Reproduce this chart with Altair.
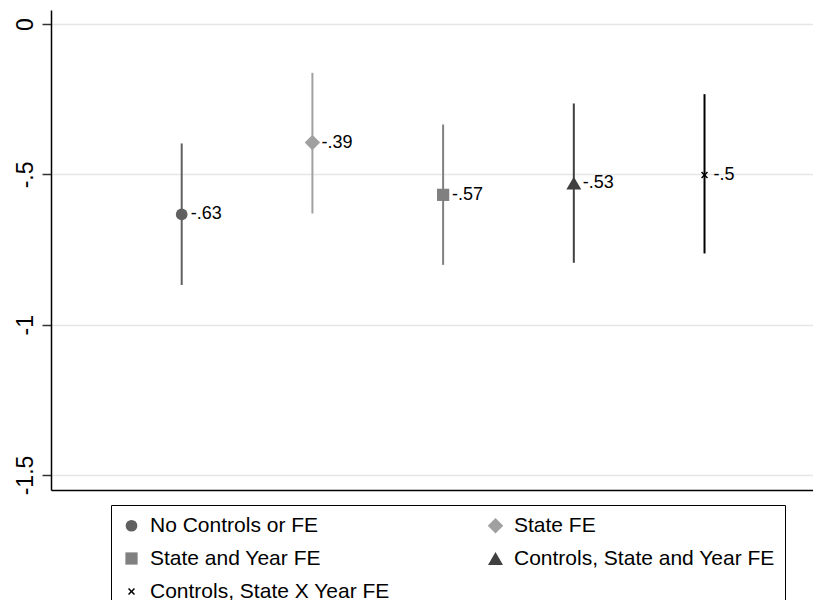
import altair as alt
import pandas as pd

# ---- data ----
series = ["No Controls or FE", "State FE", "State and Year FE",
          "Controls, State and Year FE", "Controls, State X Year FE"]
xpos = [1, 2, 3, 4, 5]
estimate = [-0.633, -0.394, -0.568, -0.529, -0.502]
ci_low = [-0.868, -0.630, -0.801, -0.794, -0.763]
ci_high = [-0.397, -0.162, -0.334, -0.264, -0.233]
value_labels = ["-.63", "-.39", "-.57", "-.53", "-.5"]

colors = ["#606060", "#a0a0a0", "#808080", "#404040", "#000000"]
xshape = "M-1,-0.7L-0.7,-1L0,-0.3L0.7,-1L1,-0.7L0.3,0L1,0.7L0.7,1L0,0.3L-0.7,1L-1,0.7L-0.3,0Z"
shapes = ["circle", "diamond", "square", "triangle-up", xshape]
sizes = [137, 240, 150, 225, 49]

ytick_values = [0, -0.5, -1, -1.5]
ytick_labels = ["0", "-.5", "-1", "-1.5"]

df = pd.DataFrame({
    "series": series, "x": xpos, "est": estimate,
    "lo": ci_low, "hi": ci_high, "lab": value_labels,
})

label_expr = " : ".join(
    [f"datum.value == {v} ? '{l}'" for v, l in zip(ytick_values, ytick_labels)]
) + " : datum.label"

FONT = "Liberation Sans"

xscale = alt.Scale(domain=[0, 5.83], nice=False, zero=False)
yscale = alt.Scale(domain=[-1.55, 0.047], nice=False, zero=False)
cscale = alt.Scale(domain=series, range=colors)

x_enc = alt.X("x:Q", scale=xscale,
              axis=alt.Axis(labels=False, ticks=False, title=None, grid=False,
                            domainColor="black", domainWidth=1.5))
y_axis = alt.Axis(values=ytick_values, labelExpr=label_expr, title=None,
                  labelAngle=270, labelAlign="center", labelBaseline="alphabetic",
                  labelFontSize=23, labelFont=FONT, labelColor="black",
                  labelPadding=10, tickSize=9, tickColor="#333333", tickWidth=1.5,
                  domainColor="black", domainWidth=1.5,
                  grid=True, gridColor="#e6e6e6", gridWidth=1.5)

base = alt.Chart(df)

rules = base.mark_rule(strokeWidth=2).encode(
    x=x_enc,
    y=alt.Y("lo:Q", scale=yscale, axis=y_axis),
    y2="hi:Q",
    color=alt.Color("series:N", scale=cscale, legend=None),
)

leg = alt.Legend(
    title=None, orient="none", legendX=60, legendY=495,
    columns=2, direction="horizontal",
    strokeColor="black", padding=10,
    labelFont=FONT, labelFontSize=21, labelColor="black",
    labelLimit=500, labelOffset=8,
    rowPadding=11, columnPadding=95,
    symbolStrokeWidth=0, symbolOpacity=1)

points = base.mark_point(filled=True, opacity=1).encode(
    x=alt.X("x:Q", scale=xscale),
    y=alt.Y("est:Q", scale=yscale),
    color=alt.Color("series:N", scale=cscale, sort=series, legend=leg),
    shape=alt.Shape("series:N", scale=alt.Scale(domain=series, range=shapes),
                    sort=series, legend=leg),
    size=alt.Size("series:N", scale=alt.Scale(type="ordinal", domain=series, range=sizes),
                  sort=series, legend=leg),
)

texts = base.mark_text(align="left", baseline="middle", dx=9, fontSize=18,
                       font=FONT, color="black").encode(
    x=alt.X("x:Q", scale=xscale),
    y=alt.Y("est:Q", scale=yscale),
    text="lab:N",
)

chart = alt.layer(rules, points, texts).resolve_legend(
    color="independent", shape="independent", size="independent"
).properties(
    width=762, height=480,
    background="white",
    autosize=alt.AutoSizeParams(type="none"),
    padding={"left": 43, "top": 2, "right": 0, "bottom": 110},
).configure_view(stroke=None)

chart.save("out.html", embed_options={"renderer": "svg", "actions": False})
